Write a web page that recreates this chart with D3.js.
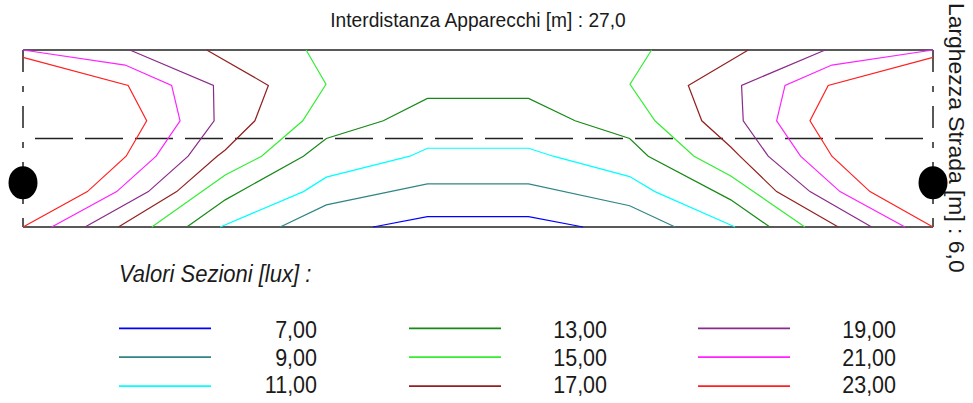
<!DOCTYPE html>
<html lang="it">
  <head>
    <script src="https://d3js.org/d3.v7.min.js"></script>
    <style>
      body {
        margin: 0;
        background: #fff;
      }
      text {
        font-family: "Liberation Sans", Arial, sans-serif;
        fill: #1a1a1a;
      }
    </style>
  </head>

  <body>
    <svg width="973" height="403"></svg>
    <script>
      // valori delle curve isolux [lux]
      var livelli = [7, 9, 11, 13, 15, 17, 19, 21, 23];
      var colori = [
        "#0000ff",
        "#2f8585",
        "#00ffff",
        "#168a16",
        "#33ee33",
        "#922020",
        "#8a2a8a",
        "#ff22ff",
        "#ff2020",
      ];

      // punti delle curve in metri: [distanza lungo la strada, distanza dal bordo inferiore]
      var iso7 = [[[10.39, 0], [12.0, 0.35], [15.0, 0.35], [16.62, 0]]];
      var iso9 = [[[7.63, 0], [9.0, 0.75], [12.0, 1.46], [15.0, 1.46], [18.0, 0.72], [19.35, 0]]];
      var iso11 = [
        [[5.85, 0], [8.32, 1.2], [9.0, 1.69], [11.48, 2.4], [12.0, 2.67], [15.0, 2.67],
         [15.73, 2.4], [18.0, 1.71], [18.75, 1.2], [21.13, 0]],
      ];
      var iso13 = [
        [[4.86, 0], [6.0, 0.92], [8.32, 2.4], [9.0, 3.0], [10.69, 3.6], [12.0, 4.36], [15.0, 4.36],
         [16.38, 3.6], [18.0, 3.0], [18.55, 2.4], [21.0, 0.92], [22.16, 0]],
      ];
      var iso15 = [
        [[8.4, 6], [8.99, 4.84], [8.3, 3.6], [7.08, 2.4], [6.0, 1.76], [3.82, 0]],
        [[18.65, 6], [18.01, 4.84], [18.75, 3.6], [19.91, 2.4], [21.0, 1.73], [23.2, 0]],
      ];
      var iso17 = [
        [[5.45, 6], [7.28, 4.8], [6.88, 3.6], [6.0, 2.61], [5.76, 2.4], [4.56, 1.2], [2.83, 0]],
        [[21.52, 6], [19.74, 4.8], [20.14, 3.6], [21.0, 2.71], [21.27, 2.4], [22.36, 1.2], [24.19, 0]],
      ];
      var iso19 = [
        [[3.17, 6], [5.65, 4.8], [5.67, 3.6], [4.9, 2.4], [3.72, 1.2], [1.84, 0]],
        [[23.8, 6], [21.32, 4.8], [21.37, 3.6], [22.11, 2.4], [23.35, 1.2], [25.18, 0]],
      ];
      var iso21 = [
        [[0, 6], [3.03, 5.49], [4.41, 4.8], [4.66, 3.6], [3.95, 2.4], [2.78, 1.2], [0.85, 0]],
        [[27, 6], [24.0, 5.49], [22.61, 4.8], [22.36, 3.6], [23.07, 2.4], [24.24, 1.2], [26.17, 0]],
      ];
      var iso23 = [
        [[0, 5.75], [3.12, 4.8], [3.67, 3.6], [3.06, 2.4], [1.91, 1.2], [0, 0]],
        [[27, 5.75], [23.89, 4.8], [23.35, 3.6], [24.0, 2.4], [25.13, 1.2], [27, 0]],
      ];
      var curve = [iso7, iso9, iso11, iso13, iso15, iso17, iso19, iso21, iso23];

      var interdistanza = 27.0;
      var larghezza = 6.0;
      var mezzeria = 3.0;
      var lampade = [[0, 1.5], [27, 1.5]];

      var virgola = d3.formatLocale({
        decimal: ",",
        thousands: ".",
        grouping: [3],
        currency: ["", " €"],
      });
      var fmt1 = virgola.format(".1f");
      var fmt2 = virgola.format(".2f");

      var svg = d3.select("svg");

      //scale in metri
      var x = d3.scaleLinear().domain([0, interdistanza]).range([23, 933]);
      var y = d3.scaleLinear().domain([0, larghezza]).range([227, 50]);

      //titolo sopra
      svg
        .append("text")
        .attr("transform", "translate(478,27) scale(1,1.1)")
        .attr("text-anchor", "middle")
        .attr("font-size", "19.2px")
        .text("Interdistanza Apparecchi [m] : " + fmt1(interdistanza));

      //titolo verticale a destra
      svg
        .append("text")
        .attr("transform", "translate(949,3) rotate(90) scale(1.05,1)")
        .attr("font-size", "21.8px")
        .text("Larghezza Strada [m] : " + fmt1(larghezza));

      var g = svg.append("g");

      //bordi laterali tratteggiati
      g.selectAll(".lato")
        .data([0, interdistanza])
        .enter()
        .append("line")
        .attr("x1", (d) => x(d))
        .attr("x2", (d) => x(d))
        .attr("y1", y(larghezza))
        .attr("y2", y(0))
        .attr("stroke", "#222")
        .attr("stroke-width", 1.5)
        .attr("stroke-dasharray", "22,14,6,14");

      //mezzeria
      g.append("line")
        .attr("x1", x(0))
        .attr("x2", x(interdistanza))
        .attr("y1", y(mezzeria))
        .attr("y2", y(mezzeria))
        .attr("stroke", "#222")
        .attr("stroke-width", 1.5)
        .attr("stroke-dasharray", "38,12")
        .attr("stroke-dashoffset", 38);

      //bordi sopra e sotto
      g.selectAll(".bordo")
        .data([0, larghezza])
        .enter()
        .append("line")
        .attr("x1", x(0))
        .attr("x2", x(interdistanza))
        .attr("y1", (d) => y(d))
        .attr("y2", (d) => y(d))
        .attr("stroke", "#222")
        .attr("stroke-width", 1.6);

      //curve isolux
      var line = d3
        .line()
        .x((d) => x(d[0]))
        .y((d) => y(d[1]));

      curve.forEach(function (tratti, i) {
        g.selectAll(".iso" + livelli[i])
          .data(tratti)
          .enter()
          .append("path")
          .attr("d", line)
          .attr("fill", "none")
          .attr("stroke", colori[i])
          .attr("stroke-width", 1.2);
      });

      //apparecchi
      g.selectAll(".lampada")
        .data(lampade)
        .enter()
        .append("ellipse")
        .attr("cx", (d) => x(d[0]))
        .attr("cy", (d) => y(d[1]))
        .attr("rx", 14.5)
        .attr("ry", 16.5)
        .attr("fill", "#000");

      //legenda
      svg
        .append("text")
        .attr("transform", "translate(119,282) scale(1,1.05)")
        .attr("font-size", "22px")
        .attr("font-style", "italic")
        .text("Valori Sezioni [lux] :");

      var colX = [119, 409, 698];
      var leg = svg
        .selectAll(".voce")
        .data(livelli)
        .enter()
        .append("g")
        .attr("class", "voce");

      leg
        .append("line")
        .attr("x1", (d, i) => colX[Math.floor(i / 3)])
        .attr("x2", (d, i) => colX[Math.floor(i / 3)] + 92)
        .attr("y1", (d, i) => 328.3 + (i % 3) * 28.9)
        .attr("y2", (d, i) => 328.3 + (i % 3) * 28.9)
        .attr("stroke", (d, i) => colori[i])
        .attr("stroke-width", 1.8);

      leg
        .append("text")
        .attr("transform", function (d, i) {
          var tx = colX[Math.floor(i / 3)] + 198;
          var ty = 338 + (i % 3) * 27.7;
          return "translate(" + tx + "," + ty + ") scale(1,1.08)";
        })
        .attr("text-anchor", "end")
        .attr("font-size", "21.5px")
        .text((d) => fmt2(d));
    </script>
  </body>
</html>
